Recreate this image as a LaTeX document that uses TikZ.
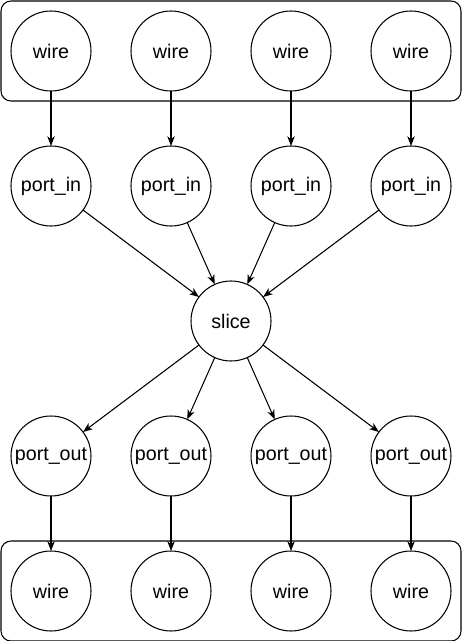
\documentclass[tikz,border=0pt]{standalone}
\usepackage{fontspec}
\setmainfont{Liberation Sans}
\usetikzlibrary{arrows.meta}

\begin{document}
\begin{tikzpicture}[
    every node/.style={draw, line width=0.6pt, inner sep=0pt, outer sep=0pt,
        font=\fontsize{11.2}{13}\selectfont},
    vertex/.style={circle, minimum size=1.6cm},
    group/.style={rectangle, rounded corners=0.2cm, minimum width=9.2cm, minimum height=2cm},
    link/.style={draw, line width=0.6pt, -{Stealth[length=5.5pt, width=4.2pt, inset=1.6pt]}}
]
\useasboundingbox (-0.02,0.02) rectangle (9.4,-12.8);

% input wires
\node[group] (top) at (4.6,-1) {};
\node[vertex] (w1) at (1,-1) {wire};
\node[vertex] (w2) at (3.4,-1) {wire};
\node[vertex] (w3) at (5.8,-1) {wire};
\node[vertex] (w4) at (8.2,-1) {wire};

\node[vertex] (in1) at (1,-3.7) {port\_in};
\node[vertex] (in2) at (3.4,-3.7) {port\_in};
\node[vertex] (in3) at (5.8,-3.7) {port\_in};
\node[vertex] (in4) at (8.2,-3.7) {port\_in};

\node[vertex] (slice) at (4.6,-6.4) {slice};

\node[vertex] (out1) at (1,-9.1) {port\_out};
\node[vertex] (out2) at (3.4,-9.1) {port\_out};
\node[vertex] (out3) at (5.8,-9.1) {port\_out};
\node[vertex] (out4) at (8.2,-9.1) {port\_out};

% output wires
\node[group] (bottom) at (4.6,-11.8) {};
\node[vertex] (v1) at (1,-11.8) {wire};
\node[vertex] (v2) at (3.4,-11.8) {wire};
\node[vertex] (v3) at (5.8,-11.8) {wire};
\node[vertex] (v4) at (8.2,-11.8) {wire};

\draw[link] (w1) -- (in1);
\draw[link] (w2) -- (in2);
\draw[link] (w3) -- (in3);
\draw[link] (w4) -- (in4);

\draw[link] (in1) -- (slice);
\draw[link] (in2) -- (slice);
\draw[link] (in3) -- (slice);
\draw[link] (in4) -- (slice);

\draw[link] (slice) -- (out1);
\draw[link] (slice) -- (out2);
\draw[link] (slice) -- (out3);
\draw[link] (slice) -- (out4);

\draw[link] (out1) -- (v1);
\draw[link] (out2) -- (v2);
\draw[link] (out3) -- (v3);
\draw[link] (out4) -- (v4);
\end{tikzpicture}
\end{document}
